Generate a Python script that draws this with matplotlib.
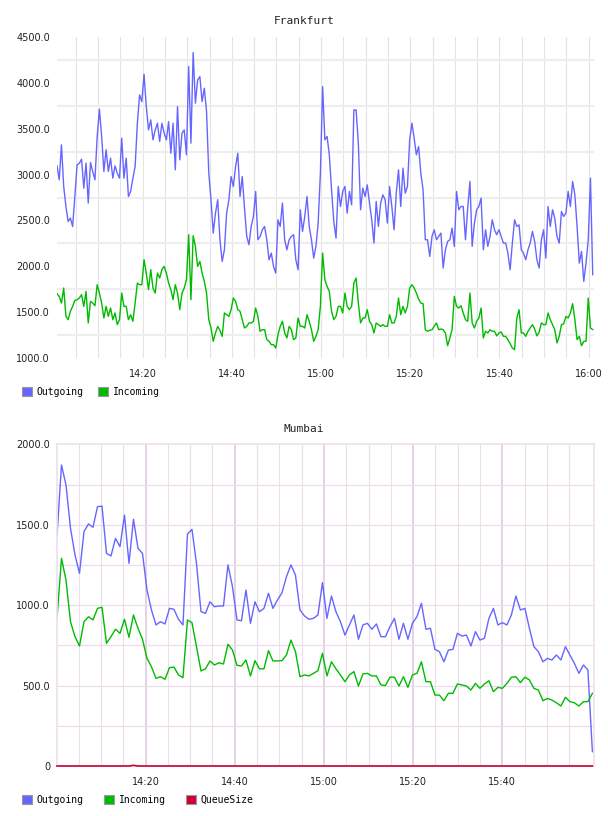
import numpy as np
import matplotlib
matplotlib.use('Agg')
import matplotlib.pyplot as plt
from matplotlib.patches import Patch
from matplotlib.ticker import FuncFormatter

# 时间轴: 14:00 之后的分钟数
FRA_START, FRA_END = 0.81, 120.9      # 每 30 秒一个采样点
MUM_START, MUM_END = 0.13, 120.2      # 约每分钟一个采样点

fra_outgoing = [
    3095, 2943, 3324, 2870, 2652, 2489, 2525, 2434, 2761, 3106,
    3123, 3168, 2852, 3124, 2689, 3132, 3034, 2943, 3415, 3713,
    3415, 3034, 3270, 3034, 3179, 2961, 3095, 3015, 2961, 3397,
    2961, 3179, 2761, 2816, 2961, 3088, 3560, 3869, 3796, 4094,
    3742, 3487, 3596, 3379, 3487, 3560, 3360, 3560, 3451, 3379,
    3578, 3233, 3560, 3052, 3742, 3161, 3451, 3487, 3215, 4177,
    3342, 4330, 3778, 4032, 4068, 3796, 3941, 3687, 3015, 2725,
    2362, 2580, 2725, 2289, 2053, 2180, 2580, 2725, 2979, 2870,
    3088, 3233, 2761, 2979, 2634, 2326, 2235, 2434, 2543, 2816,
    2289, 2326, 2398, 2434, 2289, 2071, 2144, 1999, 1926, 2507,
    2434, 2689, 2289, 2180, 2289, 2326, 2344, 2071, 1962, 2616,
    2380, 2543, 2761, 2434, 2289, 2089, 2217, 2471, 3015, 3960,
    3379, 3415, 3215, 2834, 2489, 2307, 2870, 2652, 2816, 2870,
    2580, 2816, 2670, 3705, 3705, 3342, 2616, 2852, 2761, 2888,
    2689, 2507, 2253, 2707, 2434, 2689, 2779, 2725, 2471, 2870,
    2652, 2398, 2797, 3052, 2652, 3070, 2797, 2870, 3379, 3560,
    3397, 3215, 3306, 3015, 2834, 2289, 2289, 2108, 2326, 2398,
    2289, 2326, 2362, 1981, 2180, 2271, 2289, 2416, 2217, 2816,
    2616, 2652, 2652, 2289, 2634, 2925, 2217, 2471, 2616, 2652,
    2743, 2180, 2398, 2217, 2326, 2507, 2398, 2344, 2398, 2326,
    2253, 2253, 2144, 1962, 2253, 2507, 2434, 2452, 2180, 2144,
    2071, 2180, 2253, 2380, 2271, 2071, 1981, 2289, 2398, 2089,
    2652, 2434, 2616, 2525, 2326, 2253, 2598, 2543, 2580, 2816,
    2652, 2925, 2779, 2434, 2035, 2162, 1835, 2035, 2289, 2961, 1908,
]

fra_incoming = [
    1701, 1672, 1599, 1763, 1454, 1418, 1509, 1563, 1628, 1636,
    1654, 1690, 1563, 1726, 1382, 1618, 1599, 1570, 1799, 1708,
    1599, 1436, 1563, 1454, 1545, 1418, 1491, 1364, 1418, 1708,
    1563, 1563, 1418, 1472, 1400, 1599, 1817, 1799, 1799, 2072,
    1926, 1745, 1963, 1763, 1708, 1926, 1872, 1963, 1999, 1926,
    1817, 1745, 1636, 1799, 1708, 1527, 1708, 1763, 1854, 2344,
    1636, 2333, 2217, 1999, 2053, 1926, 1835, 1708, 1418, 1327,
    1182, 1273, 1345, 1302, 1236, 1491, 1472, 1454, 1527, 1654,
    1618, 1527, 1509, 1418, 1327, 1345, 1382, 1382, 1400, 1545,
    1454, 1291, 1309, 1309, 1200, 1182, 1145, 1145, 1109, 1254,
    1345, 1400, 1273, 1218, 1345, 1309, 1200, 1218, 1436, 1345,
    1345, 1327, 1472, 1400, 1309, 1182, 1236, 1309, 1563, 2144,
    1854, 1781, 1726, 1509, 1418, 1454, 1563, 1563, 1491, 1708,
    1563, 1527, 1563, 1817, 1872, 1599, 1382, 1436, 1436, 1527,
    1400, 1364, 1273, 1382, 1364, 1345, 1364, 1345, 1345, 1472,
    1382, 1382, 1454, 1654, 1472, 1563, 1491, 1563, 1763, 1799,
    1763, 1708, 1643, 1599, 1592, 1309, 1291, 1302, 1309, 1345,
    1382, 1309, 1316, 1309, 1273, 1134, 1218, 1309, 1672, 1563,
    1545, 1570, 1491, 1418, 1400, 1708, 1382, 1327, 1400, 1436,
    1545, 1218, 1291, 1273, 1309, 1291, 1291, 1241, 1273, 1284,
    1236, 1236, 1200, 1157, 1109, 1091, 1436, 1527, 1273, 1273,
    1236, 1291, 1327, 1364, 1316, 1241, 1280, 1382, 1364, 1364,
    1491, 1418, 1364, 1309, 1164, 1236, 1364, 1371, 1454, 1436,
    1491, 1592, 1418, 1200, 1236, 1134, 1182, 1182, 1654, 1327, 1309,
]

mum_outgoing = [
    1430, 1871, 1747, 1478, 1312, 1198, 1457, 1505, 1484, 1612,
    1616, 1322, 1306, 1415, 1364, 1560, 1260, 1534, 1353, 1322,
    1094, 970, 877, 897, 883, 980, 974, 912, 877, 1442,
    1471, 1260, 960, 949, 1021, 990, 995, 995, 1250, 1115,
    908, 903, 1094, 887, 1021, 959, 980, 1074, 980, 1032,
    1077, 1177, 1250, 1187, 970, 933, 912, 918, 939, 1140,
    918, 1057, 959, 897, 814, 877, 939, 788, 877, 887,
    850, 883, 804, 804, 866, 918, 788, 887, 788, 887,
    928, 1011, 850, 856, 725, 711, 648, 721, 725, 825,
    808, 814, 746, 835, 783, 794, 918, 980, 877, 891,
    877, 939, 1057, 970, 980, 856, 742, 711, 648, 669,
    659, 690, 659, 742, 690, 638, 576, 628, 597, 89,
]

mum_incoming = [
    918, 1291, 1156, 897, 804, 746, 897, 928, 908, 980,
    987, 763, 804, 850, 825, 912, 800, 939, 856, 788,
    669, 617, 545, 555, 539, 611, 615, 566, 549, 908,
    891, 742, 591, 604, 653, 628, 642, 634, 757, 721,
    626, 622, 659, 560, 655, 604, 604, 717, 653, 653,
    655, 690, 783, 711, 555, 566, 560, 576, 593, 701,
    560, 648, 604, 566, 524, 566, 587, 497, 572, 576,
    560, 560, 504, 500, 552, 552, 497, 555, 489, 566,
    576, 648, 524, 524, 441, 441, 406, 452, 452, 510,
    504, 497, 472, 514, 483, 510, 530, 462, 489, 483,
    514, 552, 555, 518, 552, 535, 483, 472, 406, 420,
    410, 393, 373, 427, 400, 393, 373, 400, 400, 452,
]

mum_queue = [0] * 17 + [4] + [0] * 102

time_ticks = [20, 40, 60, 80, 100, 120]
time_labels = ['14:20', '14:40', '15:00', '15:20', '15:40', '16:00']

C_OUT = '#6666ff'
C_IN = '#00bb00'
C_QUEUE = '#cc0033'

MONO = 'DejaVu Sans Mono'
SANS = 'DejaVu Sans'

W, H = 608, 816


def fmt_value(v, pos):
    """y 轴标签: 0 显示为 0, 其余一位小数"""
    return '0' if v == 0 else f'{v:.1f}'


def style_axis(ax, xlim, ylim, yticks, xticks, xlabels):
    ax.set_xlim(*xlim)
    ax.set_ylim(*ylim)
    ax.set_yticks(yticks)
    ax.yaxis.set_major_formatter(FuncFormatter(fmt_value))
    ax.set_xticks(xticks)
    ax.set_xticklabels(xlabels)
    ax.tick_params(length=0, labelsize=7, colors='#222222')
    ax.tick_params(axis='y', pad=5)
    ax.tick_params(axis='x', pad=8)
    for lab in ax.get_xticklabels() + ax.get_yticklabels():
        lab.set_family(SANS)


def add_legend(ax, labels, colors, y_px, spacing):
    handles = [Patch(facecolor=c, edgecolor='#999999', linewidth=0.8) for c in colors]
    ax.legend(handles, labels, loc='center left',
              bbox_to_anchor=(22 / W, 1 - y_px / H), bbox_transform=ax.figure.transFigure,
              ncol=len(labels), frameon=False, handlelength=1.0, handleheight=1.0,
              handletextpad=0.5, columnspacing=spacing, borderpad=0, borderaxespad=0,
              prop={'family': MONO, 'size': 7})


fig = plt.figure(figsize=(W / 100, H / 100), dpi=100)
fig.patch.set_facecolor('white')

# ---- Frankfurt ----
ax1 = fig.add_axes([57 / W, 1 - 358 / H, 537 / W, 321 / H])
t_fra = np.linspace(FRA_START, FRA_END, len(fra_outgoing))
for m in range(5, 125, 5):
    ax1.axvline(m, color='#e4e4e4', lw=0.8, zorder=0)
for v in range(1250, 4500, 500):
    ax1.axhline(v, color='#eeeeee', lw=1.6, zorder=0)
ax1.plot(t_fra, fra_outgoing, color=C_OUT, lw=1.0)
ax1.plot(t_fra, fra_incoming, color=C_IN, lw=1.0)
for s in ax1.spines.values():
    s.set_visible(False)
style_axis(ax1, (0.81, 121.19), (1000, 4500), range(1000, 4501, 500),
           time_ticks, time_labels)
fig.text(0.5, 1 - 20.5 / H, 'Frankfurt', ha='center', va='center',
         family=MONO, fontsize=8, color='#222222')
add_legend(ax1, ['Outgoing', 'Incoming'], [C_OUT, C_IN], 392, 1.5)

# ---- Mumbai ----
ax2 = fig.add_axes([57 / W, 1 - 766 / H, 537 / W, 321.7 / H])
t_mum = np.linspace(MUM_START, MUM_END, len(mum_outgoing))
for m in range(5, 120, 5):
    major = m % 20 == 0
    ax2.axvline(m, color='#dcc6dc' if major else '#eadfea', lw=1.1 if major else 0.8, zorder=0)
for v in range(250, 2000, 250):
    ax2.axhline(v, color='#ecdcec', lw=0.9, zorder=0)
ax2.plot(t_mum, mum_outgoing, color=C_OUT, lw=1.0)
ax2.plot(t_mum, mum_incoming, color=C_IN, lw=1.0)
ax2.plot(t_mum, mum_queue, color=C_QUEUE, lw=1.2, clip_on=False, zorder=4)
for s in ax2.spines.values():
    s.set_color('#efdfef')
    s.set_linewidth(1.2)
style_axis(ax2, (0.13, 120.56), (0, 2000), range(0, 2001, 500),
           time_ticks[:-1], time_labels[:-1])
fig.text(0.5, 1 - 428.5 / H, 'Mumbai', ha='center', va='center',
         family=MONO, fontsize=8, color='#222222')
add_legend(ax2, ['Outgoing', 'Incoming', 'QueueSize'], [C_OUT, C_IN, C_QUEUE], 800, 2.1)

plt.savefig('out.png', dpi=100, facecolor='white')
plt.close()
